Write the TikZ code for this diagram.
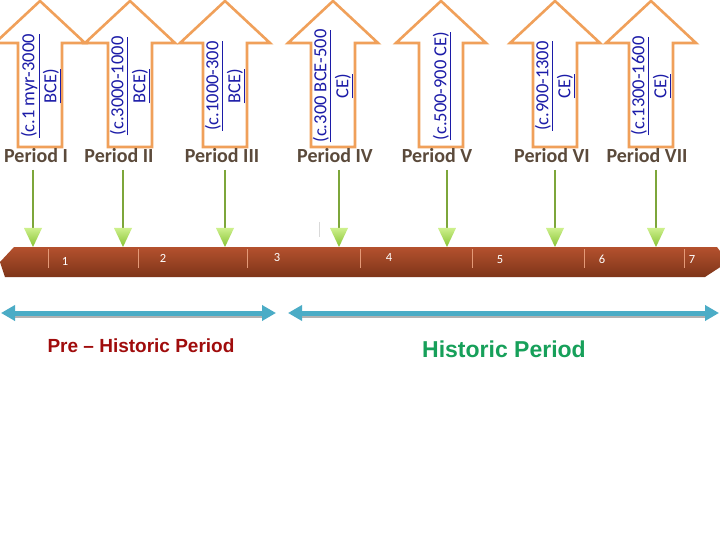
\documentclass[tikz,border=0pt]{standalone}
\usepackage{fontspec}
\setmainfont{Carlito}
\newfontfamily\arialfont{Liberation Sans}
\usepackage{xcolor}
\usetikzlibrary{arrows.meta, positioning, calc}

\definecolor{arrowOrange}{HTML}{F0A05A}
\definecolor{dateBlue}{HTML}{1C1CA8}
\definecolor{periodBrown}{HTML}{5B4A3B}
\definecolor{stemGreen}{HTML}{7DA63A}
\definecolor{tipGreenTop}{HTML}{CDF08C}
\definecolor{tipGreenBot}{HTML}{86C232}
\definecolor{barTop}{HTML}{B4512E}
\definecolor{barBot}{HTML}{7E3519}
\definecolor{tickLine}{HTML}{E49A78}
\definecolor{spanBlue}{HTML}{4BACC6}
\definecolor{preRed}{HTML}{A00C0C}
\definecolor{histGreen}{HTML}{17A05A}

\begin{document}
\begin{tikzpicture}[x=1pt, y=-1pt,
  blockarrow/.style={draw=arrowOrange, line width=2.6pt, fill=white},
  datetext/.style={rotate=90, align=center, text=dateBlue,
    font=\fontsize{18.5}{22}\selectfont},
  period/.style={text=periodBrown, font=\bfseries\fontsize{20}{24}\selectfont},
  stem/.style={draw=stemGreen, line width=1.2pt},
  barnum/.style={text=white, font=\fontsize{12.5}{14}\selectfont},
  spanline/.style={draw=spanBlue, line width=5pt},
  spanshadow/.style={draw=black!30, line width=5pt},
]
  \useasboundingbox[fill=white] (0,0) rectangle (720,540);

  %--- block arrows with the dates ---
  \foreach \x in {40,130,225,333,441,555,651}
    \draw[blockarrow] (\x-22,147) -- (\x+22,147) -- (\x+22,43) -- (\x+45,43)
      -- (\x,1) -- (\x-45,43) -- (\x-22,43) -- cycle;
  \node[datetext] (dateI)   at (41,86)  {\underline{(c.1 myr-3000}\\\underline{BCE)}};
  \node[datetext] (dateII)  at (130,86) {\underline{(c.3000-1000}\\\underline{BCE)}};
  \node[datetext] (dateIII) at (225,86) {\underline{(c.1000-300}\\\underline{BCE)}};
  \node[datetext] (dateIV)  at (333,86) {\underline{(c.300 BCE-500}\\\underline{CE)}};
  \node[datetext] (dateV)   at (442,86) {\underline{(c.500-900 CE)}};
  \node[datetext] (dateVI)  at (555,86) {\underline{(c.900-1300}\\\underline{CE)}};
  \node[datetext] (dateVII) at (651,86) {\underline{(c.1300-1600}\\\underline{CE)}};

  %--- period labels ---
  \node[period] (perI)   at (36,156)  {Period I};
  \node[period] (perII)  at (119,156) {Period II};
  \node[period] (perIII) at (222,156) {Period III};
  \node[period] (perIV)  at (335,156) {Period IV};
  \node[period] (perV)   at (437,156) {Period V};
  \node[period] (perVI)  at (552,156) {Period VI};
  \node[period] (perVII) at (647,156) {Period VII};

  %--- time bar ---
  \shade[top color=barTop, bottom color=barBot]
    (14,247) -- (717,247) -- (728,262) -- (705,277) -- (5,277) -- (0,262) -- cycle;
  \foreach \x in {48,138,247,360,472,584,684}
    \draw[tickLine, line width=0.6pt] (\x,249) -- (\x,268);
  \node[barnum] (numI)   at (65,261)  {1};
  \node[barnum] (numII)  at (163,258) {2};
  \node[barnum] (numIII) at (277,257) {3};
  \node[barnum] (numIV)  at (389,257) {4};
  \node[barnum] (numV)   at (500,260) {5};
  \node[barnum] (numVI)  at (602,259) {6};
  \node[barnum] (numVII) at (692,259) {7};
  % faint mark above the bar
  \draw[black!15, line width=0.8pt] (319,222) -- (319,237);

  %--- green pointers down to the bar ---
  \foreach \x/\n in {33/I,123/II,225/III,339/IV,447/V,555/VI,656/VII} {
    \coordinate (top\n) at (\x,170);
    \coordinate (hit\n) at (\x,229);
    \draw[stem] (top\n) -- (hit\n);
    \shade[top color=tipGreenTop, bottom color=tipGreenBot]
      (\x-9,228) -- (\x+9,228) -- (\x,247) -- cycle;
  }

  %--- spans ---
  \coordinate (preL)  at (1,313);
  \coordinate (preR)  at (276,313);
  \coordinate (histL) at (288,313);
  \coordinate (histR) at (719,313);
  \draw[spanshadow] ([yshift=-2pt]$(preL)+(12,0)$) -- ([yshift=-2pt]$(preR)+(-12,0)$);
  \draw[spanshadow] ([yshift=-2pt]$(histL)+(12,0)$) -- ([yshift=-2pt]$(histR)+(-12,0)$);
  \draw[spanline, {Triangle[length=14pt,width=15pt]}-{Triangle[length=14pt,width=15pt]}]
    (preL) -- (preR);
  \draw[spanline, {Triangle[length=14pt,width=15pt]}-{Triangle[length=14pt,width=15pt]}]
    (histL) -- (histR);

  \node[text=preRed, font=\arialfont\bfseries\fontsize{19}{22}\selectfont]
    (preHist) at (141,346) {Pre – Historic Period};
  \node[text=histGreen, font=\arialfont\bfseries\fontsize{23}{26}\selectfont]
    (hist) at (504,349) {Historic Period};
\end{tikzpicture}
\end{document}
